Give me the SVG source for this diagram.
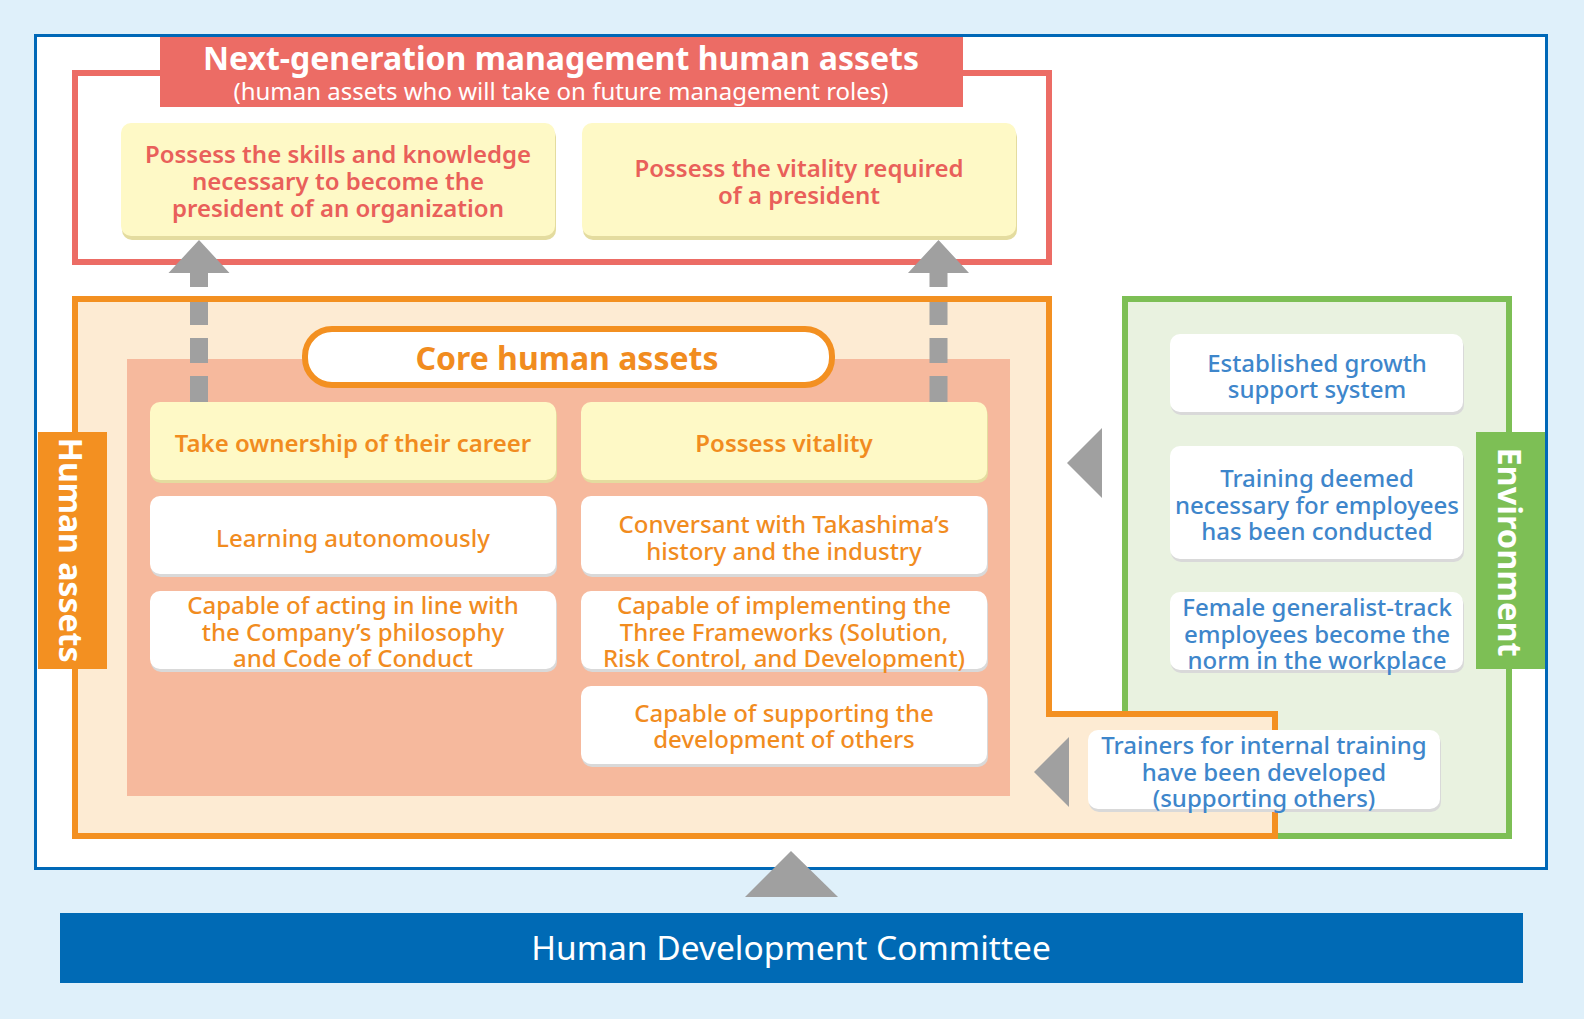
<svg xmlns="http://www.w3.org/2000/svg" width="1584" height="1019" viewBox="0 0 1584 1019">
<style>
text{font-family:"Noto Sans","Open Sans","Liberation Sans",sans-serif;text-anchor:middle}
.red{fill:#e9605a;font-weight:600;font-size:24px}
.or{fill:#f18c1f;font-weight:500;font-size:24px}
.orb{fill:#f18c1f;font-weight:600;font-size:24px}
.bl{fill:#3e86cb;font-weight:500;font-size:24px}
.wh{fill:#ffffff}
.yface{fill:#fef9c6}
.yshadow{fill:#e4dc9f}
.wface{fill:#ffffff}
.wshadow{fill:#d9d9d9}
.gray{fill:#a0a0a0}
</style>
<rect x="0" y="0" width="1584" height="1019" fill="#dff0fa"/>
<rect id="frame" x="35.5" y="35.5" width="1511" height="833" fill="#ffffff" stroke="#0068b7" stroke-width="3"/>

<g id="environment">
<rect x="1125" y="299" width="384" height="537" fill="#e9f2e0" stroke="#7dbf55" stroke-width="6"/>
<rect x="1476" y="432" width="69" height="237" fill="#7dbf55"/>
<text class="wh" transform="translate(1498,552) rotate(90)" font-size="32.5" font-weight="700">Environment</text>
</g>

<g id="next-generation">
<rect x="75" y="73" width="974" height="189" fill="#ffffff" stroke="#ec6c65" stroke-width="6"/>
<rect x="160" y="37" width="803" height="70" fill="#ec6c65"/>
<text class="wh" x="561" y="70" font-size="32" font-weight="700">Next-generation management human assets</text>
<text class="wh" x="561" y="100" font-size="24">(human assets who will take on future management roles)</text>
</g>

<g id="ng-skills">
<rect class="yshadow" x="122" y="127" width="434" height="113" rx="10"/>
<rect class="yface" x="121" y="123" width="434" height="113" rx="10"/>
<text class="red" x="338" y="163">Possess the skills and knowledge</text>
<text class="red" x="338" y="190">necessary to become the</text>
<text class="red" x="338" y="217">president of an organization</text>
</g>

<g id="ng-vitality">
<rect class="yshadow" x="583" y="127" width="434" height="113" rx="10"/>
<rect class="yface" x="582" y="123" width="434" height="113" rx="10"/>
<text class="red" x="799" y="177">Possess the vitality required</text>
<text class="red" x="799" y="204">of a president</text>
</g>

<g id="human-assets">
<path d="M75,299 H1049 V714 H1275 V836 H75 Z" fill="#fdebd3" stroke="#f39021" stroke-width="6"/>
<rect x="127" y="359" width="883" height="437" fill="#f6b99d"/>
<rect x="38" y="432" width="69" height="237" fill="#f39021"/>
<text class="wh" transform="translate(59,550) rotate(90)" font-size="32" font-weight="700">Human assets</text>
</g>

<g id="core-title">
<rect x="305" y="329" width="527" height="56" rx="27" fill="#ffffff" stroke="#f39021" stroke-width="6"/>
<text x="567" y="370" font-size="32" font-weight="700" fill="#f18c1f">Core human assets</text>
</g>

<g id="core-ownership">
<rect class="yshadow" x="151" y="405" width="406" height="78" rx="10"/>
<rect class="yface" x="150" y="402" width="406" height="78" rx="10"/>
<text class="orb" x="353" y="452">Take ownership of their career</text>
</g>

<g id="core-vitality">
<rect class="yshadow" x="582" y="405" width="406" height="78" rx="10"/>
<rect class="yface" x="581" y="402" width="406" height="78" rx="10"/>
<text class="orb" x="784" y="452">Possess vitality</text>
</g>

<g id="core-learning">
<rect class="wshadow" x="151" y="499" width="406" height="78" rx="10"/>
<rect class="wface" x="150" y="496" width="406" height="78" rx="10"/>
<text class="or" x="353" y="547">Learning autonomously</text>
</g>

<g id="core-conversant">
<rect class="wshadow" x="582" y="499" width="406" height="78" rx="10"/>
<rect class="wface" x="581" y="496" width="406" height="78" rx="10"/>
<text class="or" x="784" y="533">Conversant with Takashima’s</text>
<text class="or" x="784" y="560">history and the industry</text>
</g>

<g id="core-philosophy">
<rect class="wshadow" x="151" y="594" width="406" height="78" rx="10"/>
<rect class="wface" x="150" y="591" width="406" height="78" rx="10"/>
<text class="or" x="353" y="614">Capable of acting in line with</text>
<text class="or" x="353" y="641">the Company’s philosophy</text>
<text class="or" x="353" y="667">and Code of Conduct</text>
</g>

<g id="core-frameworks">
<rect class="wshadow" x="582" y="594" width="406" height="78" rx="10"/>
<rect class="wface" x="581" y="591" width="406" height="78" rx="10"/>
<text class="or" x="784" y="614">Capable of implementing the</text>
<text class="or" x="784" y="641">Three Frameworks (Solution,</text>
<text class="or" x="784" y="667">Risk Control, and Development)</text>
</g>

<g id="core-supporting">
<rect class="wshadow" x="582" y="689" width="406" height="78" rx="10"/>
<rect class="wface" x="581" y="686" width="406" height="78" rx="10"/>
<text class="or" x="784" y="722">Capable of supporting the</text>
<text class="or" x="784" y="748">development of others</text>
</g>

<g id="env-growth">
<rect class="wshadow" x="1171" y="337" width="293" height="78" rx="10"/>
<rect class="wface" x="1170" y="334" width="293" height="78" rx="10"/>
<text class="bl" x="1317" y="372">Established growth</text>
<text class="bl" x="1317" y="398">support system</text>
</g>

<g id="env-training">
<rect class="wshadow" x="1171" y="449" width="293" height="113" rx="10"/>
<rect class="wface" x="1170" y="446" width="293" height="113" rx="10"/>
<text class="bl" x="1317" y="487">Training deemed</text>
<text class="bl" x="1317" y="514">necessary for employees</text>
<text class="bl" x="1317" y="540">has been conducted</text>
</g>

<g id="env-female">
<rect class="wshadow" x="1171" y="595" width="293" height="78" rx="10"/>
<rect class="wface" x="1170" y="592" width="293" height="78" rx="10"/>
<text class="bl" x="1317" y="616">Female generalist-track</text>
<text class="bl" x="1317" y="643">employees become the</text>
<text class="bl" x="1317" y="669">norm in the workplace</text>
</g>

<g id="env-trainers">
<rect class="wshadow" x="1089" y="733" width="352" height="79" rx="10"/>
<rect class="wface" x="1088" y="730" width="352" height="79" rx="10"/>
<text class="bl" x="1264" y="754">Trainers for internal training</text>
<text class="bl" x="1264" y="781">have been developed</text>
<text class="bl" x="1264" y="807">(supporting others)</text>
</g>

<g id="committee">
<rect x="60" y="913" width="1463" height="70" fill="#006ab5"/>
<text class="wh" x="791" y="960" font-size="33.5">Human Development Committee</text>
</g>

<g id="connectors">
<path class="gray" d="M199,240 L229.5,273 H208 V287 H190 V273 H168.5 Z"/>
<path class="gray" d="M190,302 H208 V325 H190 Z M190,338 H208 V363 H190 Z M190,376 H208 V402 H190 Z"/>
<path class="gray" d="M938.5,240 L969,273 H947.5 V287 H929.5 V273 H908 Z"/>
<path class="gray" d="M929.5,302 H947.5 V325 H929.5 Z M929.5,338 H947.5 V363 H929.5 Z M929.5,376 H947.5 V402 H929.5 Z"/>
<path class="gray" d="M1067,463 L1102,428 V498 Z"/>
<path class="gray" d="M1034,772 L1069,737 V807 Z"/>
<path class="gray" d="M791,851 L838,897 H745 Z"/>
</g>
</svg>
